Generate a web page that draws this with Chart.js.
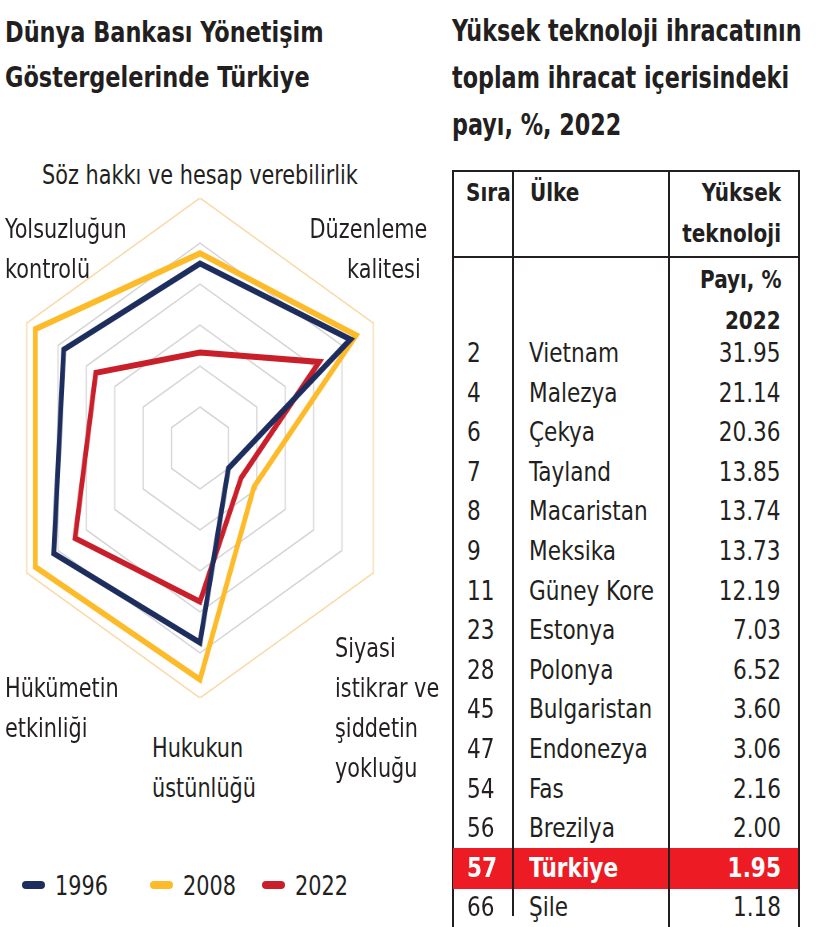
<!DOCTYPE html>
<html><head><meta charset="utf-8">
<script src="https://cdn.jsdelivr.net/npm/chart.js@4"></script>
<style>
body{margin:0;width:816px;height:927px;position:relative;background:#fff;overflow:hidden;font-family:'Liberation Sans Narrow','DejaVu Sans Condensed','DejaVu Sans',sans-serif;color:#231f20}
.t{position:absolute;white-space:nowrap;line-height:1;transform:scaleX(0.89);transform-origin:0 0}
.r{transform-origin:100% 0}
.b{font-weight:bold}
#wrap{position:absolute;left:0;top:198px;width:500px;height:500px;transform:scaleX(0.8);transform-origin:0 0}
.lab{font-size:26px}
.v{position:absolute;background:#231f20;width:2px}
.h{position:absolute;background:#231f20;height:2px}
</style></head><body>
<div id="wrap"><canvas id="c" width="500" height="500"></canvas></div>
<script>
const axes=['Söz hakkı ve hesap verebilirlik','Düzenleme kalitesi','Siyasi istikrar ve şiddetin yokluğu','Hukukun üstünlüğü','Hükümetin etkinliği','Yolsuzluğun kontrolü'];
const years=['1996','2008','2022'];
const v1996=[4.5,5.3,1.0,4.75,5.15,4.8];
const v2008=[4.75,5.5,1.9,5.65,5.8,5.8];
const v2022=[2.33,4.2,1.45,3.75,4.4,3.67];
const colors=['#1c2d5e','#fdbb2a','#c81f2a'];
const ranks=['2','4','6','7','8','9','11','23','28','45','47','54','56','57','66'];
const countries=['Vietnam','Malezya','Çekya','Tayland','Macaristan','Meksika','Güney Kore','Estonya','Polonya','Bulgaristan','Endonezya','Fas','Brezilya','Türkiye','Şile'];
const shares=['31.95','21.14','20.36','13.85','13.74','13.73','12.19','7.03','6.52','3.60','3.06','2.16','2.00','1.95','1.18'];

new Chart(document.getElementById('c'),{type:'radar',
data:{labels:axes,datasets:[v1996,v2008,v2022].map((d,i)=>({label:years[i],data:d,borderColor:colors[i],borderWidth:6,pointRadius:0,fill:false,borderJoinStyle:'miter'}))},
options:{responsive:false,animation:false,layout:{padding:0},plugins:{legend:{display:false},tooltip:{enabled:false}},
scales:{r:{min:0,max:6.1,ticks:{display:false,stepSize:1},pointLabels:{display:false},angleLines:{display:false},
grid:{lineWidth:1.5,color:c=>c.tick&&c.tick.value>6?'#f8d9a8':'#d4d4d4'}}}}});

function T(txt,x,y,cls,extra){const d=document.createElement('div');d.className='t '+(cls||'');d.textContent=txt;d.style.left=x+'px';d.style.top=y+'px';if(extra)Object.assign(d.style,extra);document.body.appendChild(d);return d;}
const tt={fontSize:'29px',transform:'scaleX(0.86)'};
T('Dünya Bankası Yönetişim',5,18,'b',tt);
T('Göstergelerinde Türkiye',5,63,'b',tt);
['Yüksek teknoloji ihracatının','toplam ihracat içerisindeki','payı, %, 2022'].forEach((s,i)=>T(s,452,15+i*47,'b',{fontSize:'31px',transform:'scaleX(0.8)'}));
T('Söz hakkı ve hesap verebilirlik',42,162,'lab');
[['Yolsuzluğun','kontrolü',5,216],['Hükümetin','etkinliği',5,675],['Hukukun','üstünlüğü',152,735]].forEach(a=>{T(a[0],a[2],a[3],'lab');T(a[1],a[2],a[3]+40,'lab');});
T('Düzenleme',0,216,'lab r',{left:'auto',right:(816-427)+'px'});T('kalitesi',0,256,'lab r',{left:'auto',right:(816-421)+'px'});
['Siyasi','istikrar ve','şiddetin','yokluğu'].forEach((s,i)=>T(s,335,635+i*40,'lab'));
years.forEach((y,i)=>{const x=[22,150,262][i];const m=document.createElement('div');m.style.cssText=`position:absolute;left:${x}px;top:881px;width:23px;height:8px;border-radius:4px;background:${colors[i]}`;document.body.appendChild(m);T(y,x+33,873,'',{fontSize:'26px'});});
function L(cls,x,y,w,h){const d=document.createElement('div');d.className=cls;d.style.left=x+'px';d.style.top=y+'px';if(w)d.style.width=w+'px';if(h)d.style.height=h+'px';document.body.appendChild(d);}
L('h',453,170,347);L('h',453,256,347);
L('v',452,170,0,757);L('v',798,170,0,757);
T('Sıra',466,180,'b',{fontSize:'25px'});T('Ülke',530,180,'b',{fontSize:'25px'});
['Yüksek','teknoloji','Payı, %','2022'].forEach((s,i)=>T(s,0,180+i*41+(i>1?5:0),'b r',{fontSize:'25px',left:'auto',right:(816-781)+'px'}));
ranks.forEach((r,i)=>{const y=339+i*39.6;const hl=countries[i]==='Türkiye';
 if(hl){const d=document.createElement('div');d.style.cssText=`position:absolute;left:453px;top:${y-6}px;width:345px;height:41px;background:#ed1c24`;document.body.appendChild(d);}
 const st={fontSize:'27px'};if(hl){st.color='#fff';st.fontWeight='bold';}
 T(r,467,y,'',st);T(countries[i],529,y,'',st);T(shares[i],0,y,'r',Object.assign({left:'auto',right:(816-781)+'px'},st));});
L('v',512,170,0,746);L('v',668,170,0,757);
</script>
</body></html>
